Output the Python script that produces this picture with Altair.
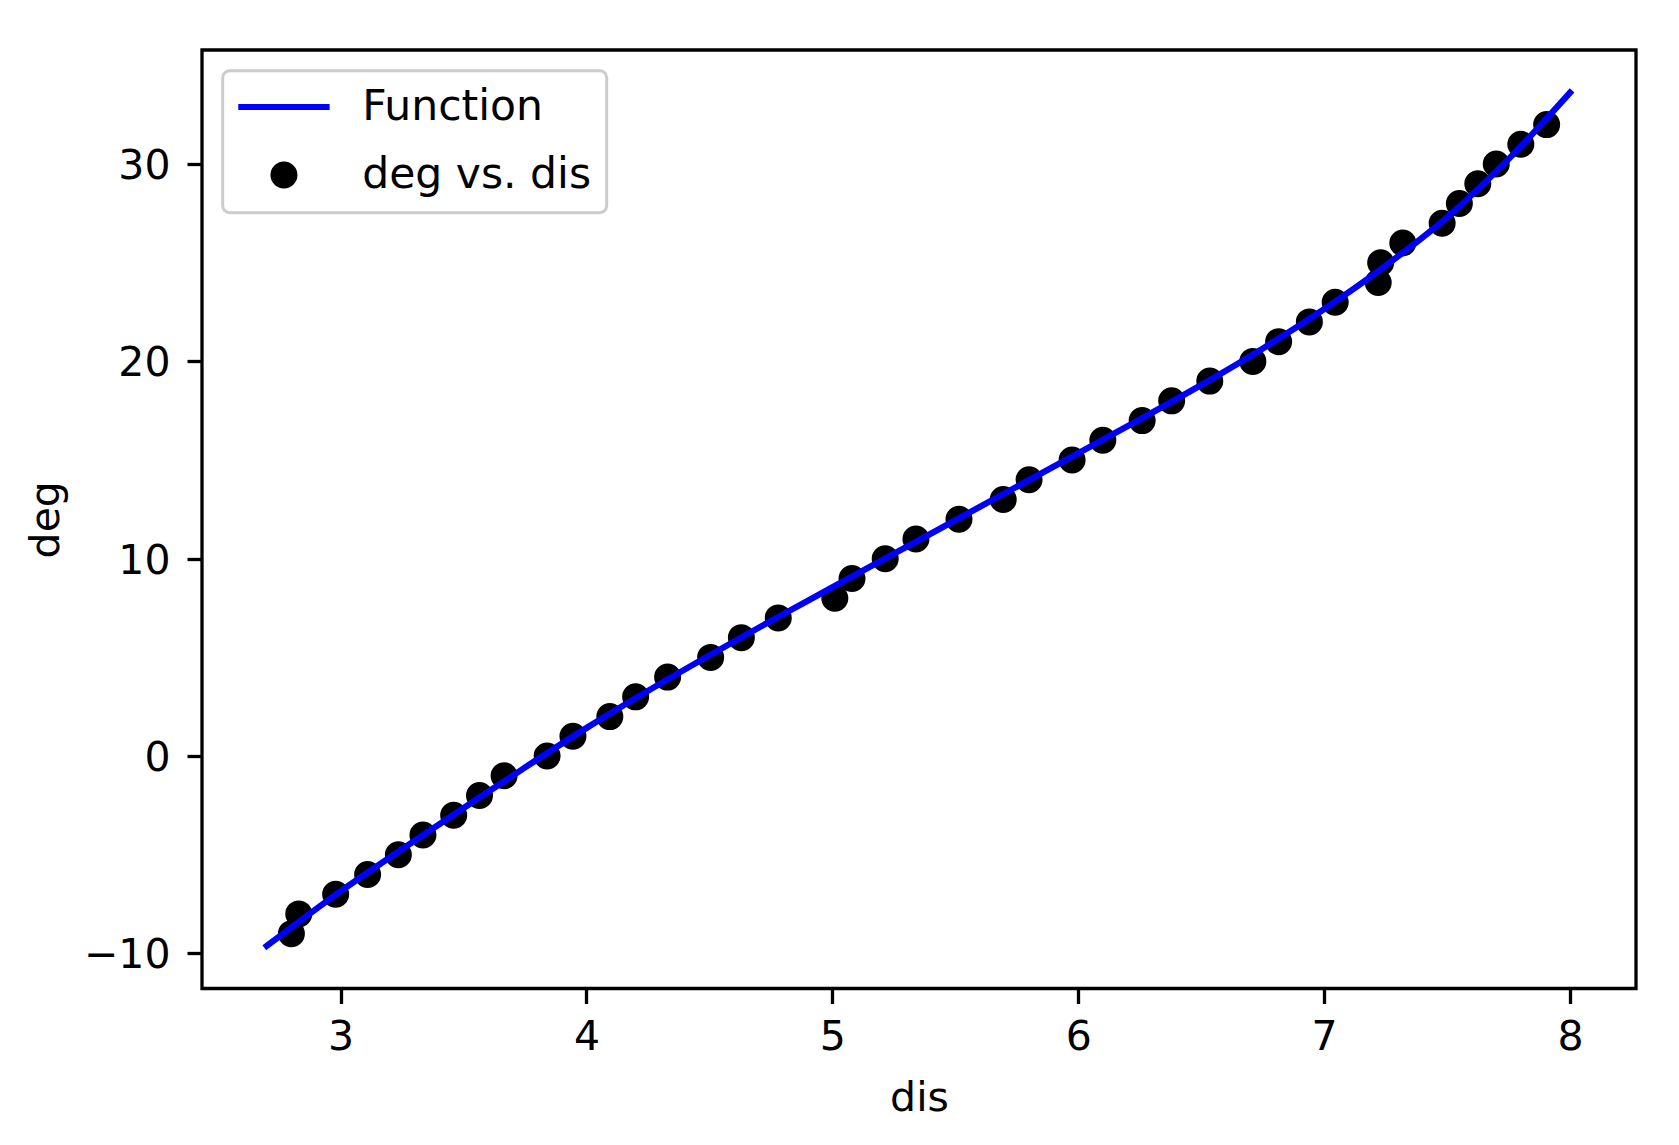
import altair as alt
import pandas as pd

# scatter data: deg vs. dis
dis = [2.80, 2.83, 2.98, 3.11, 3.235, 3.335, 3.46, 3.565, 3.665, 3.84, 3.945,
       4.095, 4.20, 4.33, 4.505, 4.63, 4.78, 5.01, 5.08, 5.215, 5.34, 5.515,
       5.695, 5.80, 5.975, 6.10, 6.26, 6.38, 6.535, 6.71, 6.815, 6.94, 7.045,
       7.22, 7.23, 7.32, 7.48, 7.55, 7.625, 7.70, 7.80, 7.905]
deg = [-9, -8, -7, -6, -5, -4, -3, -2, -1, 0, 1,
       2, 3, 4, 5, 6, 7, 8, 9, 10, 11, 12,
       13, 14, 15, 16, 17, 18, 19, 20, 21, 22, 23,
       24, 25, 26, 27, 28, 29, 30, 31, 32]

# fitted function
fn_x = [2.70, 3.00, 3.25, 3.50, 3.75, 4.00, 4.25, 4.50, 4.75, 5.00, 5.25, 5.50,
        5.75, 6.00, 6.25, 6.50, 6.75, 7.00, 7.25, 7.50, 7.75, 8.00]
fn_y = [-9.62, -6.85, -4.72, -2.64, -0.58, 1.42, 3.30, 5.10, 6.85, 8.55, 10.25, 11.95,
        13.65, 15.35, 17.05, 18.80, 20.65, 22.65, 24.85, 27.30, 30.25, 33.62]

x_ticks = [3, 4, 5, 6, 7, 8]
y_ticks = [-10, 0, 10, 20, 30]
series_names = ["Function", "deg vs. dis"]

pts = pd.DataFrame({"dis": dis, "deg": deg, "series": series_names[1]})
fn = pd.DataFrame({"dis": fn_x, "deg": fn_y, "series": series_names[0]})

FONT = "DejaVu Sans"
FS = 41
PW = 1434
PH = 938.5

color_scale = alt.Scale(domain=series_names, range=["#0000ff", "#000000"])
shape_scale = alt.Scale(domain=series_names, range=["M-4.35,0L4.35,0", "circle"])
leg = alt.Legend(title=None)

x_enc = alt.X(
    "dis:Q",
    scale=alt.Scale(domain=[2.4364, 8.2684], nice=False, zero=False),
    axis=alt.Axis(values=x_ticks, title="dis", titleY=121.5,
                  titleBaseline="alphabetic", labelPadding=14),
)
y_enc = alt.Y(
    "deg:Q",
    scale=alt.Scale(domain=[-11.78, 35.78], nice=False, zero=False),
    axis=alt.Axis(values=y_ticks, title="deg", titleX=-144, titleY=PH / 2,
                  titleAngle=270, titleBaseline="alphabetic", titleAlign="center",
                  labelPadding=17, labelOffset=2.5),
)

line = alt.Chart(fn).mark_line(
    strokeWidth=6.25, interpolate="monotone", strokeCap="square", clip=True
).encode(
    x=x_enc, y=y_enc,
    stroke=alt.Stroke("series:N", scale=color_scale, legend=leg),
)

points = alt.Chart(pts).mark_point(
    filled=True, size=441, strokeWidth=6, opacity=1
).encode(
    x=x_enc, y=y_enc,
    fill=alt.Fill("series:N", scale=color_scale, legend=leg),
    stroke=alt.Stroke("series:N", scale=color_scale, legend=leg),
    shape=alt.Shape("series:N", scale=shape_scale, legend=leg),
)

chart = alt.layer(points, line).properties(
    width=PW, height=PH,
    autosize=alt.AutoSizeParams(type="none"),
    padding={"left": 194, "top": 42, "right": 30, "bottom": 140},
    background="white",
).configure_view(
    stroke="black", strokeWidth=3.3, fill="white"
).configure_axis(
    domain=False, grid=False,
    tickColor="black", tickWidth=3.3, tickSize=15,
    labelFont=FONT, labelFontSize=FS, labelColor="black",
    titleFont=FONT, titleFontSize=FS, titleColor="black", titleFontWeight="normal",
).configure_legend(
    orient="none", legendX=20.7, legendY=20.7,
    padding=15, fillColor="rgba(255,255,255,0.8)", strokeColor="#cccccc",
    strokeWidth=3, cornerRadius=7,
    labelFont=FONT, labelFontSize=42.5, labelColor="black", labelLimit=1000,
    symbolSize=441, symbolStrokeWidth=6, symbolOffset=25, labelOffset=57,
    rowPadding=23,
)

chart.save("out.html", embed_options={"renderer": "svg", "actions": False})
